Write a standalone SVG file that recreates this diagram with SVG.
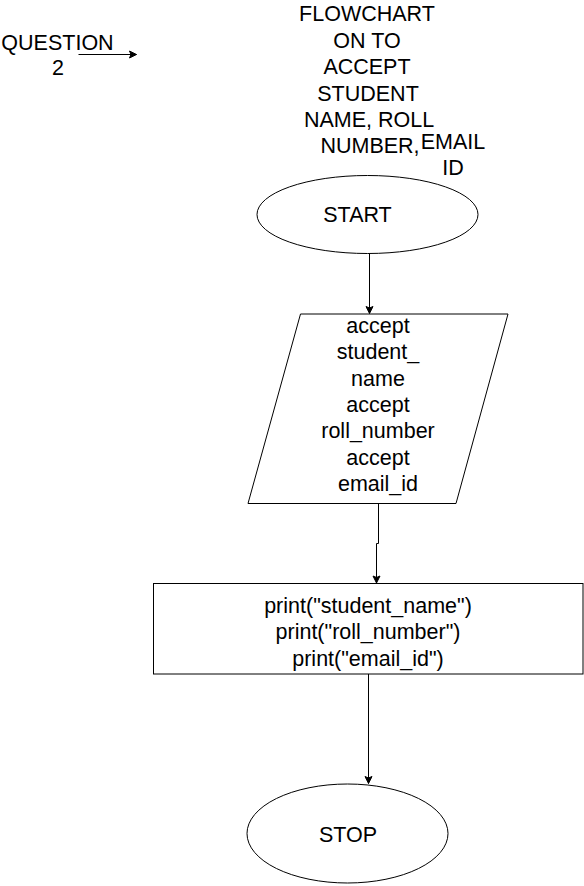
<svg xmlns="http://www.w3.org/2000/svg" width="584" height="886" viewBox="0 0 584 886">
<style>
  text { font-family: "Liberation Sans", Arial, sans-serif; font-size: 21.5px; fill: #000; text-anchor: middle; }
  .shape { fill: #fff; stroke: #000; stroke-width: 1; }
  .edge { fill: none; stroke: #000; stroke-width: 1; }
</style>
<defs>
  <marker id="arrow" viewBox="-8 -5 9 10" refX="0" refY="0" markerWidth="9" markerHeight="10" markerUnits="userSpaceOnUse" orient="auto">
    <path d="M0,0 L-7,-3.5 L-5.5,0 L-7,3.5 Z" fill="#000" stroke="#000" stroke-width="1"/>
  </marker>
</defs>
<rect x="0" y="0" width="584" height="886" fill="#fff"/>

<g id="question-label">
  <text x="57.5" y="50">QUESTION</text>
  <text x="58" y="75">2</text>
</g>

<g id="title">
  <text x="367" y="21">FLOWCHART</text>
  <text x="367" y="47.5">ON TO</text>
  <text x="367" y="74">ACCEPT</text>
  <text x="368" y="100.5">STUDENT</text>
  <text x="369" y="127">NAME, ROLL</text>
  <text x="370" y="153">NUMBER,</text>
</g>

<g id="title-email">
  <text x="453" y="149">EMAIL</text>
  <text x="453" y="175">ID</text>
</g>

<g id="start">
  <ellipse class="shape" cx="367.5" cy="214.5" rx="110.5" ry="39"/>
  <text x="357.5" y="222">START</text>
</g>

<g id="input">
  <polygon class="shape" points="300.5,314 508,314 456,503.5 248,503.5"/>
  <text x="378" y="333">accept</text>
  <text x="378" y="359.3">student_</text>
  <text x="378" y="385.7">name</text>
  <text x="378" y="412">accept</text>
  <text x="378" y="438.3">roll_number</text>
  <text x="378" y="464.7">accept</text>
  <text x="378" y="491">email_id</text>
</g>

<g id="output">
  <rect class="shape" x="153.5" y="583.5" width="429.5" height="90.5"/>
  <text x="368" y="613">print("student_name")</text>
  <text x="368" y="639.4">print("roll_number")</text>
  <text x="368" y="665.8">print("email_id")</text>
</g>

<g id="stop">
  <ellipse class="shape" cx="347.5" cy="833.5" rx="100.5" ry="49.5"/>
  <text x="348" y="842">STOP</text>
</g>

<g id="connectors">
  <path class="edge" d="M78.5,54.5 L136.5,54.5" marker-end="url(#arrow)"/>
  <path class="edge" d="M369.5,253.5 L369.5,313.5" marker-end="url(#arrow)"/>
  <path class="edge" d="M378.5,503.5 L378.5,543.5 L376.5,543.5 L376.5,583" marker-end="url(#arrow)"/>
  <path class="edge" d="M368.5,674 L368.5,783.5" marker-end="url(#arrow)"/>
</g>
</svg>
